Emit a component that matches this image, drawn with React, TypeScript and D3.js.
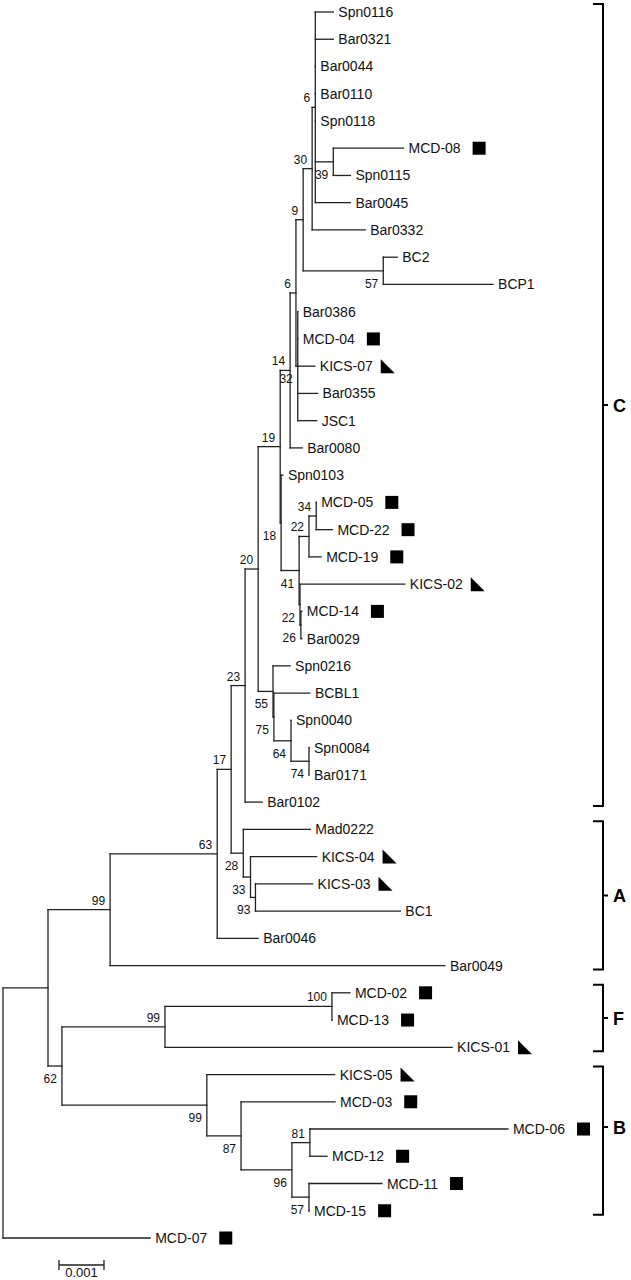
import React from 'react';
import * as d3 from 'd3';

// [id, parent id, branch length (substitutions/site), bootstrap support]
const edges: [string, string, number, number | null][] = [
  ['root', '', 0, null],
  ['nAF', 'root', 0.001, null],
  ['n99a', 'nAF', 0.00138, 99],
  ['n63', 'n99a', 0.00238, 63],
  ['n17', 'n63', 0.00031, 17],
  ['n23', 'n17', 0.00031, 23],
  ['n20', 'n23', 0.00029, 20],
  ['n19', 'n20', 0.00049, 19],
  ['n14', 'n19', 0.00022, 14],
  ['n6', 'n14', 0.00013, 6],
  ['n9', 'n6', 0.00016, 9],
  ['n30', 'n9', 0.0002, 30],
  ['n6top', 'n30', 0.00007, 6],
  ['Spn0116', 'n6top', 0.0004, null],
  ['Bar0321', 'n6top', 0.0004, null],
  ['Bar0044', 'n6top', 0, null],
  ['Bar0110', 'n6top', 0, null],
  ['Spn0118', 'n6top', 0, null],
  ['n39', 'n6top', 0.0004, 39],
  ['MCD-08', 'n39', 0.00156, null],
  ['Spn0115', 'n39', 0.00038, null],
  ['Bar0045', 'n6top', 0.00078, null],
  ['Bar0332', 'n30', 0.00118, null],
  ['n57bc', 'n9', 0.00178, 57],
  ['BC2', 'n57bc', 0.00031, null],
  ['BCP1', 'n57bc', 0.00244, null],
  ['n32', 'n6', 0.00004, 32],
  ['Bar0386', 'n32', 0, null],
  ['MCD-04', 'n32', 0, null],
  ['KICS-07', 'n32', 0.00038, null],
  ['Bar0355', 'n32', 0.00044, null],
  ['JSC1', 'n32', 0.00042, null],
  ['Bar0080', 'n14', 0.00027, null],
  ['n18', 'n19', 0.00002, 18],
  ['Spn0103', 'n18', 0.00004, null],
  ['n41', 'n18', 0.0004, 41],
  ['n22a', 'n41', 0.00022, 22],
  ['n34', 'n22a', 0.00016, 34],
  ['MCD-05', 'n34', 0, null],
  ['MCD-22', 'n34', 0.00036, null],
  ['MCD-19', 'n22a', 0.00027, null],
  ['n22b', 'n41', 0.00002, 22],
  ['KICS-02', 'n22b', 0.00233, null],
  ['n26', 'n22b', 0.00002, 26],
  ['MCD-14', 'n26', 0.00002, null],
  ['Bar0029', 'n26', 0.00002, null],
  ['n55', 'n20', 0.00033, 55],
  ['Spn0216', 'n55', 0.00038, null],
  ['n75', 'n55', 0.00002, 75],
  ['BCBL1', 'n75', 0.0008, null],
  ['n64', 'n75', 0.00038, 64],
  ['Spn0040', 'n64', 0, null],
  ['n74', 'n64', 0.0004, 74],
  ['Spn0084', 'n74', 0, null],
  ['Bar0171', 'n74', 0, null],
  ['Bar0102', 'n23', 0.00038, null],
  ['n28', 'n17', 0.00027, 28],
  ['Mad0222', 'n28', 0.00149, null],
  ['n33', 'n28', 0.00016, 33],
  ['KICS-04', 'n33', 0.00147, null],
  ['n93', 'n33', 0.00011, 93],
  ['KICS-03', 'n93', 0.00127, null],
  ['BC1', 'n93', 0.00322, null],
  ['Bar0046', 'n63', 0.00091, null],
  ['Bar0049', 'n99a', 0.00744, null],
  ['n62', 'nAF', 0.00031, 62],
  ['n99b', 'n62', 0.00229, 99],
  ['n100', 'n99b', 0.00371, 100],
  ['MCD-02', 'n100', 0.0004, null],
  ['MCD-13', 'n100', 0, null],
  ['KICS-01', 'n99b', 0.00638, null],
  ['n99c', 'n62', 0.00322, 99],
  ['KICS-05', 'n99c', 0.00284, null],
  ['n87', 'n99c', 0.00076, 87],
  ['MCD-03', 'n87', 0.00209, null],
  ['n96', 'n87', 0.00113, 96],
  ['n81', 'n96', 0.0004, 81],
  ['MCD-06', 'n81', 0.0044, null],
  ['MCD-12', 'n81', 0.00038, null],
  ['n57', 'n96', 0.00038, 57],
  ['MCD-11', 'n57', 0.00162, null],
  ['MCD-15', 'n57', 0, null],
  ['MCD-07', 'root', 0.00327, null],
];

// bootstrap labels drawn beneath the branch instead of above it
const supportBelow = ['n39', 'n57bc', 'n32', 'n18', 'n41', 'n22b', 'n26', 'n55', 'n75', 'n64', 'n74',
  'n28', 'n33', 'n93', 'n62', 'n99c', 'n87', 'n96', 'n57'];

const squareTaxa = ['MCD-08', 'MCD-04', 'MCD-05', 'MCD-22', 'MCD-19', 'MCD-14', 'MCD-02', 'MCD-13',
  'MCD-03', 'MCD-06', 'MCD-12', 'MCD-11', 'MCD-15', 'MCD-07'];
const triangleTaxa = ['KICS-07', 'KICS-02', 'KICS-04', 'KICS-03', 'KICS-01', 'KICS-05'];

const cladeNames = ['C', 'A', 'F', 'B'];
const cladeFirst = ['Spn0116', 'Mad0222', 'MCD-02', 'KICS-05'];
const cladeLast = ['Bar0102', 'Bar0049', 'KICS-01', 'MCD-15'];
const cladeTickAt: (string | null)[] = [null, null, null, 'MCD-06'];

const scaleBarValue = 0.001;
const scaleBarLabel = '0.001';

const FONT = "'Liberation Sans', Arial, Helvetica, sans-serif";
const LINE = '#222';

let ctx: CanvasRenderingContext2D | null = null;
function textWidth(s: string, size: number) {
  if (!ctx) ctx = document.createElement('canvas').getContext('2d');
  if (!ctx) return s.length * size * 0.55;
  ctx.font = `${size}px ${FONT}`;
  return ctx.measureText(s).width;
}

export default function App() {
  const root = d3
    .stratify<[string, string, number, number | null]>()
    .id((d) => d[0])
    .parentId((d) => d[1])(edges) as any;

  root.eachBefore((n: any) => {
    n.dist = (n.parent ? n.parent.dist : 0) + n.data[2];
  });

  const leaves = root.leaves();
  const x = d3.scaleLinear().domain([0, 0.001]).range([3, 48]);
  const y = d3.scaleLinear().domain([0, leaves.length - 1]).range([12, 1238]);
  leaves.forEach((l: any, i: number) => (l.y = y(i)));
  root.eachAfter((n: any) => {
    if (n.children) n.y = (n.children[0].y + n.children[n.children.length - 1].y) / 2;
    n.x = x(n.dist);
  });

  const nodes = root.descendants();
  const byId = new Map(nodes.map((n: any) => [n.id, n]));

  const segs: JSX.Element[] = [];
  nodes.forEach((n: any, i: number) => {
    if (n.parent) {
      segs.push(<line key={'h' + i} x1={n.parent.x} x2={n.x} y1={n.y} y2={n.y} />);
    }
    if (n.children) {
      const c0 = n.children[0], c1 = n.children[n.children.length - 1];
      segs.push(<line key={'v' + i} x1={n.x} x2={n.x} y1={c0.y} y2={c1.y} />);
    }
  });

  const supports = nodes
    .filter((n: any) => n.data[3] != null)
    .map((n: any, i: number) => {
      const below = supportBelow.includes(n.id);
      return (
        <text key={'s' + i} x={n.x - 5} y={below ? n.y + 17 : n.y - 5} textAnchor="end" fontSize={12}>
          {n.data[3]}
        </text>
      );
    });

  const labels = leaves.map((l: any, i: number) => {
    const tx = l.x + 5;
    const w = textWidth(l.id, 14);
    let marker: JSX.Element | null = null;
    if (squareTaxa.includes(l.id)) {
      const mx = tx + w + 12;
      marker = <rect x={mx} y={l.y - 6.5} width={13} height={13} fill="#000" />;
    } else if (triangleTaxa.includes(l.id)) {
      const mx = tx + w + 8;
      marker = <path d={`M${mx},${l.y - 7}L${mx},${l.y + 7}L${mx + 14},${l.y + 7}Z`} fill="#000" />;
    }
    return (
      <g key={'l' + i}>
        <text x={tx} y={l.y + 5} fontSize={14}>{l.id}</text>
        {marker}
      </g>
    );
  });

  const bx = 603;
  const brackets = cladeNames.map((name, i) => {
    const a: any = byId.get(cladeFirst[i]);
    const b: any = byId.get(cladeLast[i]);
    const top = a.y - 8, bot = b.y + 4;
    const tickNode: any = cladeTickAt[i] ? byId.get(cladeTickAt[i] as string) : null;
    const mid = tickNode ? tickNode.y - 2 : (top + bot) / 2;
    return (
      <g key={'c' + i}>
        <path d={`M${bx - 10},${top}H${bx}V${bot}H${bx - 10}M${bx},${mid}H${bx + 5}`} fill="none" stroke="#000" strokeWidth={2} />
        <text x={bx + 10} y={mid + 6.5} fontSize={18} fontWeight="bold">{name}</text>
      </g>
    );
  });

  const sb0 = 59;
  const sbW = x(scaleBarValue) - x(0);
  const sbY = 1265;

  return (
    <svg width={631} height={1280} style={{ position: 'absolute', left: 0, top: 0, background: '#fff' }} fontFamily={FONT}>
      <rect width={631} height={1280} fill="#fff" />
      <g stroke={LINE} strokeWidth={1.3} strokeLinecap="square">{segs}</g>
      <g fill="#111">{supports}</g>
      <g fill="#111">{labels}</g>
      {brackets}
      <g>
        <path d={`M${sb0},${sbY - 5}V${sbY + 5}M${sb0},${sbY}H${sb0 + sbW}M${sb0 + sbW},${sbY - 5}V${sbY + 5}`} stroke={LINE} strokeWidth={1.3} fill="none" />
        <text x={sb0 + sbW / 2} y={sbY + 12} textAnchor="middle" fontSize={13} fill="#111">{scaleBarLabel}</text>
      </g>
    </svg>
  );
}
